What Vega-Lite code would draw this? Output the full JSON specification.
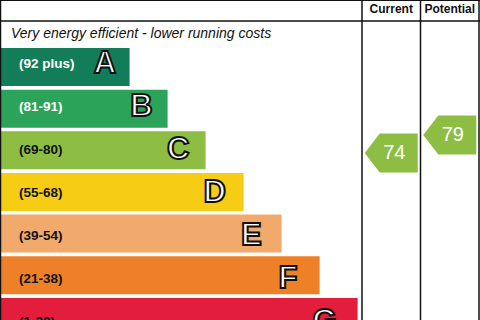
{
  "$schema": "https://vega.github.io/schema/vega-lite/v6.json",
  "width": 480,
  "height": 320,
  "padding": 0,
  "autosize": {"type": "none"},
  "background": "white",
  "config": {
    "view": {"stroke": null},
    "axis": {"disable": true},
    "legend": {"disable": true},
    "text": {"font": "Liberation Sans"}
  },
  "datasets": {
    "bands": [
      {"rank": 1, "band": "A", "range": "(92 plus)"},
      {"rank": 2, "band": "B", "range": "(81-91)"},
      {"rank": 3, "band": "C", "range": "(69-80)"},
      {"rank": 4, "band": "D", "range": "(55-68)"},
      {"rank": 5, "band": "E", "range": "(39-54)"},
      {"rank": 6, "band": "F", "range": "(21-38)"},
      {"rank": 7, "band": "G", "range": "(1-20)"}
    ],
    "ratings": [
      {"column": "Current", "score": 74},
      {"column": "Potential", "score": 79}
    ],
    "note": [
      {"label": "Very energy efficient - lower running costs"}
    ]
  },
  "resolve": {"scale": {"x": "independent", "y": "independent", "color": "independent"}},
  "layer": [
    {
      "data": {"name": "bands"},
      "mark": {"type": "bar", "orient": "horizontal", "height": 38},
      "encoding": {
        "y": {"field": "rank", "type": "quantitative", "axis": null, "scale": {"domain": [-0.4884, 6.9535], "reverse": true, "nice": false, "zero": false}},
        "x": {"field": "rank", "type": "quantitative", "axis": null, "scale": {"domain": [-2.41, 10.22], "nice": false, "zero": false}},
        "x2": {"datum": -2.41},
        "color": {
          "field": "band", "type": "nominal", "legend": null,
          "scale": {"domain": ["A", "B", "C", "D", "E", "F", "G"], "range": ["#137d59", "#2ba45a", "#8dbe43", "#f6cc15", "#f2a96c", "#ee8028", "#e21e3c"]}
        }
      }
    },
    {
      "data": {"name": "bands"},
      "mark": {"type": "text", "align": "left", "baseline": "middle", "dx": 19, "fontSize": 13.5, "fontWeight": "bold"},
      "encoding": {
        "y": {"field": "rank", "type": "quantitative", "axis": null, "scale": {"domain": [-0.4884, 6.9535], "reverse": true, "nice": false, "zero": false}},
        "x": {"datum": -2.41, "type": "quantitative", "axis": null, "scale": {"domain": [-2.41, 10.22], "nice": false, "zero": false}},
        "text": {"field": "range"},
        "color": {"condition": {"test": "datum.rank <= 2", "value": "#ffffff"}, "value": "#111111"}
      }
    },
    {
      "data": {"name": "bands"},
      "mark": {"type": "text", "align": "center", "baseline": "middle", "fontSize": 31, "fontWeight": "bold", "fill": "#ffffff", "stroke": "#111111", "strokeWidth": 2},
      "encoding": {
        "y": {"field": "rank", "type": "quantitative", "axis": null, "scale": {"domain": [-0.4884, 6.9535], "reverse": true, "nice": false, "zero": false}},
        "x": {"field": "rank", "type": "quantitative", "axis": null, "scale": {"domain": [-1.866, 11.25], "nice": false, "zero": false}},
        "text": {"field": "band"}
      }
    },
    {
      "data": {"name": "ratings"},
      "mark": {"type": "point", "shape": "M -1 0 L -0.434 -0.736 L 1 -0.736 L 1 0.736 L -0.434 0.736 Z", "size": 2809, "filled": true, "fill": "#8dbe43", "opacity": 1, "strokeWidth": 0},
      "encoding": {
        "x": {"field": "column", "type": "nominal", "axis": null, "scale": {"type": "band", "domain": ["Current", "Potential"], "range": [362, 479], "paddingInner": 0, "paddingOuter": 0}},
        "y": {"field": "score", "type": "quantitative", "axis": null, "scale": {"domain": [27.6, 116.5], "nice": false, "zero": false}}
      }
    },
    {
      "data": {"name": "ratings"},
      "mark": {"type": "text", "align": "center", "baseline": "middle", "dx": 3, "fontSize": 20, "color": "#ffffff"},
      "encoding": {
        "x": {"field": "column", "type": "nominal", "axis": null, "scale": {"type": "band", "domain": ["Current", "Potential"], "range": [362, 479], "paddingInner": 0, "paddingOuter": 0}},
        "y": {"field": "score", "type": "quantitative", "axis": null, "scale": {"domain": [27.6, 116.5], "nice": false, "zero": false}},
        "text": {"field": "score"}
      }
    },
    {
      "data": {"name": "ratings"},
      "mark": {"type": "text", "align": "center", "baseline": "middle", "fontSize": 12, "fontWeight": "bold", "color": "#111111"},
      "encoding": {
        "x": {"field": "column", "type": "nominal", "axis": null, "scale": {"type": "band", "domain": ["Current", "Potential"], "range": [362, 479], "paddingInner": 0, "paddingOuter": 0}},
        "y": {"datum": -0.27, "type": "quantitative", "axis": null, "scale": {"domain": [-0.4884, 6.9535], "reverse": true, "nice": false, "zero": false}},
        "text": {"field": "column"}
      }
    },
    {
      "data": {"name": "note"},
      "mark": {"type": "text", "align": "left", "baseline": "alphabetic", "dx": 11, "fontSize": 14, "fontStyle": "italic", "color": "#111111"},
      "encoding": {
        "x": {"datum": -2.41, "type": "quantitative", "axis": null, "scale": {"domain": [-2.41, 10.22], "nice": false, "zero": false}},
        "y": {"datum": 0.384, "type": "quantitative", "axis": null, "scale": {"domain": [-0.4884, 6.9535], "reverse": true, "nice": false, "zero": false}},
        "text": {"field": "label"}
      }
    },
    {
      "data": {"name": "note"},
      "mark": {"type": "rule", "color": "#111111", "strokeWidth": 1.5},
      "encoding": {
        "y": {"datum": 0, "type": "quantitative", "axis": null, "scale": {"domain": [-0.4884, 6.9535], "reverse": true, "nice": false, "zero": false}}
      }
    },
    {
      "data": {"name": "note"},
      "mark": {"type": "rule", "color": "#111111", "strokeWidth": 2},
      "encoding": {
        "y": {"datum": -0.4884, "type": "quantitative", "axis": null, "scale": {"domain": [-0.4884, 6.9535], "reverse": true, "nice": false, "zero": false}}
      }
    },
    {
      "data": {"name": "note"},
      "mark": {"type": "rule", "color": "#111111", "strokeWidth": 2.5},
      "encoding": {
        "x": {"datum": -2.41, "type": "quantitative", "axis": null, "scale": {"domain": [-2.41, 10.22], "nice": false, "zero": false}}
      }
    },
    {
      "data": {"name": "ratings"},
      "mark": {"type": "rule", "color": "#111111", "strokeWidth": 1.5},
      "encoding": {
        "x": {"field": "column", "type": "nominal", "bandPosition": 0, "axis": null, "scale": {"type": "band", "domain": ["Current", "Potential"], "range": [362, 479], "paddingInner": 0, "paddingOuter": 0}}
      }
    },
    {
      "data": {"name": "note"},
      "mark": {"type": "rule", "color": "#111111", "strokeWidth": 1.5},
      "encoding": {
        "x": {"datum": "Potential", "type": "nominal", "bandPosition": 1, "axis": null, "scale": {"type": "band", "domain": ["Current", "Potential"], "range": [362, 479], "paddingInner": 0, "paddingOuter": 0}}
      }
    }
  ]
}
